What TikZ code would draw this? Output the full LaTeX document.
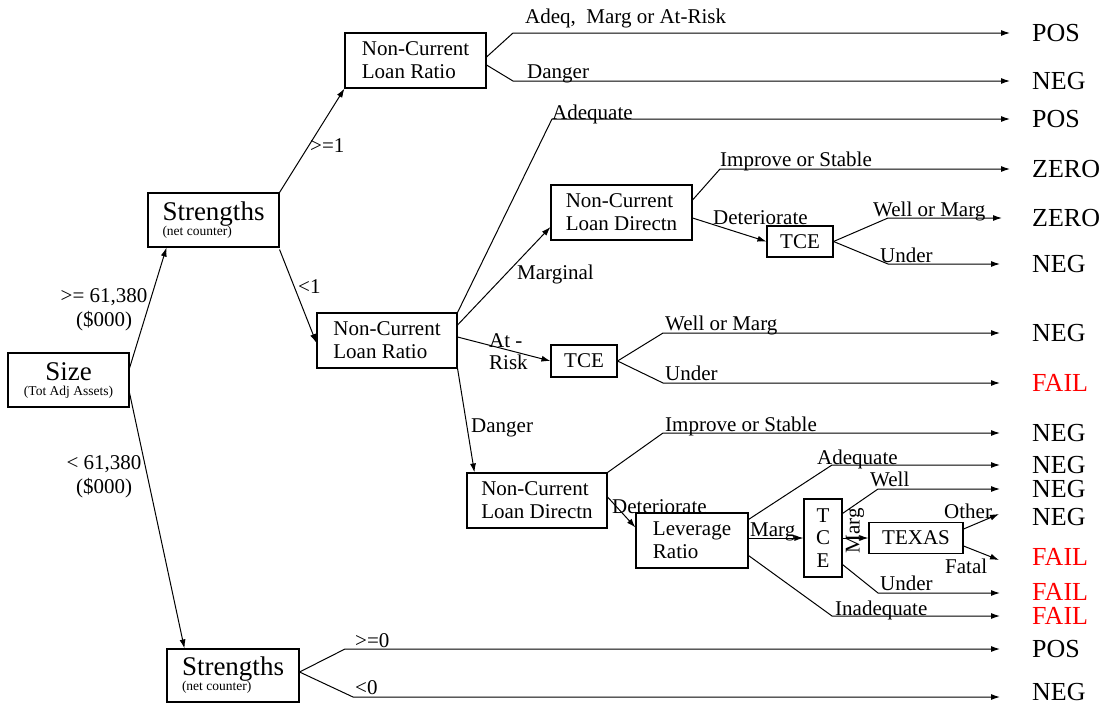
\documentclass[tikz,border=0pt]{standalone}
\usepackage{fontspec}
\setmainfont{Liberation Serif}
\usetikzlibrary{arrows.meta}
\definecolor{failred}{RGB}{255,0,0}
\begin{document}
\begin{tikzpicture}[x=1pt,y=-1pt,
  box/.style={draw, line width=1.1pt, inner sep=0pt, font=\fontsize{21}{23}\selectfont, align=left},
  bigbox/.style={draw, line width=1.1pt, inner sep=0pt, font=\fontsize{27}{27}\selectfont},
  lab/.style={font=\fontsize{21}{23}\selectfont, inner sep=0pt, anchor=base west},
  res/.style={font=\fontsize{26}{26}\selectfont, inner sep=0pt, anchor=west, text height=17pt, text depth=0pt},
  fail/.style={res, text=failred},
  arr/.style={-{Latex[length=9pt,width=6pt]}, line width=1pt}]
\useasboundingbox[fill=white] (0,0) rectangle (1107,704);

% boxes
\node[bigbox, align=center, minimum width=121pt, minimum height=54pt] (size) at (68.5,380)
  {Size\\[-12pt]{\fontsize{13.5}{14}\selectfont (Tot Adj Assets)}};
\node[bigbox, align=left, minimum width=131pt, minimum height=54pt] (s1) at (213.5,220)
  {Strengths\\[-12pt]{\fontsize{13.5}{14}\selectfont (net counter)}};
\node[bigbox, align=left, minimum width=132pt, minimum height=53pt] (s2) at (233,675.5)
  {Strengths\\[-12pt]{\fontsize{13.5}{14}\selectfont (net counter)}};
\node[box, minimum width=141pt, minimum height=55pt] (n1) at (415.5,60.5) {Non-Current\\Loan Ratio};
\node[box, minimum width=140pt, minimum height=55pt] (n2) at (387,340.5) {Non-Current\\Loan Ratio};
\node[box, minimum width=141pt, minimum height=55pt] (d1) at (621.5,212.5) {Non-Current\\Loan Directn};
\node[box, minimum width=140pt, minimum height=55pt] (d2) at (537,500.5) {Non-Current\\Loan Directn};
\node[box, minimum width=66pt, minimum height=32pt] (t1) at (584,361) {TCE};
\node[box, minimum width=66pt, minimum height=31pt] (t2) at (800,241.5) {TCE};
\node[box, minimum width=112pt, minimum height=55pt] (lev) at (692,540.5) {Leverage\\Ratio};
\node[box, align=center, font=\fontsize{21}{22.5}\selectfont, minimum width=38pt, minimum height=78pt] (t3) at (823,538) {T\\C\\E};
\node[box, minimum width=94pt, minimum height=31pt] (tx) at (916,538) {TEXAS};

% results
\node[res]  (r1)  at (1032,33)  {POS};
\node[res]  (r2)  at (1032,81)  {NEG};
\node[res]  (r3)  at (1032,119) {POS};
\node[res]  (r4)  at (1032,169) {ZERO};
\node[res]  (r5)  at (1032,218) {ZERO};
\node[res]  (r6)  at (1032,264) {NEG};
\node[res]  (r7)  at (1032,333) {NEG};
\node[fail] (r8)  at (1032,383) {FAIL};
\node[res]  (r9)  at (1032,433) {NEG};
\node[res]  (r10) at (1032,465) {NEG};
\node[res]  (r11) at (1032,489) {NEG};
\node[res]  (r12) at (1032,517) {NEG};
\node[fail] (r13) at (1032,557) {FAIL};
\node[fail] (r14) at (1032,592) {FAIL};
\node[fail] (r15) at (1032,616) {FAIL};
\node[res]  (r16) at (1032,649) {POS};
\node[res]  (r17) at (1032,692) {NEG};

% connectors
\draw[arr] ([yshift=12pt]size.east) -- ([xshift=19pt]s1.south west);
\draw[arr] ([yshift=-13pt]size.east) -- ([xshift=18pt]s2.north west);
\draw[arr] (s1.north east) -- (n1.south west);
\draw[arr] ([yshift=-2pt]s1.south east) -- ([yshift=-2.5pt]n2.west);
\draw[arr] ([yshift=3.5pt]n1.east) -- ([xshift=-519pt]r1.west) -- ([xshift=-22pt]r1.west);
\draw[arr] ([yshift=-4.5pt]n1.east) -- ([xshift=-519pt]r2.west) -- ([xshift=-22pt]r2.west);
\draw[arr] (n2.north east) -- ([xshift=-480pt]r3.west) -- ([xshift=-22pt]r3.west);
\draw[arr] ([yshift=15.5pt]n2.east) -- ([yshift=-14.5pt]d1.west);
\draw[arr] ([yshift=3.5pt]n2.east) -- (t1.west);
\draw[arr] (n2.south east) -- ([xshift=8pt]d2.north west);
\draw[arr] ([yshift=12.5pt]d1.east) -- ([xshift=-312pt]r4.west) -- ([xshift=-22pt]r4.west);
\draw[arr] ([yshift=-5.5pt]d1.east) -- (t2.west);
\draw[arr] (t2.east) -- ([xshift=-144pt]r5.west) -- ([xshift=-30pt]r5.west);
\draw[arr] (t2.east) -- ([xshift=-144pt]r6.west) -- ([xshift=-32pt]r6.west);
\draw[arr] (t1.east) -- ([xshift=-369pt]r7.west) -- ([xshift=-32pt]r7.west);
\draw[arr] (t1.east) -- ([xshift=-369pt]r8.west) -- ([xshift=-32pt]r8.west);
\draw[arr] (d2.north east) -- ([xshift=-369pt]r9.west) -- ([xshift=-32pt]r9.west);
\draw[arr] ([yshift=3.5pt]d2.east) -- ([yshift=-15pt]lev.north west);
\draw[arr] ([yshift=-7pt]lev.north east) -- ([xshift=-200pt]r10.west) -- ([xshift=-32pt]r10.west);
\draw[arr] ([yshift=2.5pt]lev.east) -- (t3.west);
\draw[arr] ([yshift=13pt]lev.south east) -- ([xshift=-200pt]r15.west) -- ([xshift=-32pt]r15.west);
\draw[arr] ([yshift=-15pt]t3.north east) -- ([xshift=-154pt]r11.west) -- ([xshift=-32pt]r11.west);
\draw[arr] (t3.east) -- (tx.west);
\draw[arr] ([yshift=13pt]t3.south east) -- ([xshift=-154pt,yshift=-1pt]r14.west) -- ([xshift=-32pt,yshift=-1pt]r14.west);
\draw[arr] ([yshift=9pt]tx.east) -- ([xshift=-33pt,yshift=3pt]r12.west);
\draw[arr] ([yshift=-8pt]tx.east) -- ([xshift=-33pt,yshift=-3pt]r13.west);
\draw[arr] ([yshift=3.5pt]s2.east) -- ([xshift=-687pt]r16.west) -- ([xshift=-32pt]r16.west);
\draw[arr] ([yshift=3.5pt]s2.east) -- ([xshift=-679pt,yshift=-5pt]r17.west) -- ([xshift=-32pt,yshift=-5pt]r17.west);

% labels
\node[lab, anchor=center, align=center, font=\fontsize{21}{24}\selectfont] (lhi) at (104,310) {>= 61,380\\(\$000)};
\node[lab, anchor=center, align=center, font=\fontsize{21}{24}\selectfont] (llo) at (104,477) {< 61,380\\(\$000)};
\node[lab] (l1) at (310,152) {>=1};
\node[lab] (l2) at (298,293) {<1};
\node[lab] (l3) at (525,23) {Adeq,~ Marg or At-Risk};
\node[lab] (l4) at (527,78) {Danger};
\node[lab] (l5) at (552,119) {Adequate};
\node[lab] (l6) at (517,279) {Marginal};
\node[lab, align=left, font=\fontsize{21}{22}\selectfont] (l7) at (489,369) {At -\\Risk};
\node[lab] (l8) at (471,432) {Danger};
\node[lab] (l9) at (720,166) {Improve or Stable};
\node[lab] (l10) at (713,224) {Deteriorate};
\node[lab] (l11) at (873,216) {Well or Marg};
\node[lab] (l12) at (880,262) {Under};
\node[lab] (l13) at (665,330) {Well or Marg};
\node[lab] (l14) at (665,380) {Under};
\node[lab] (l15) at (665,431) {Improve or Stable};
\node[lab] (l16) at (612,513) {Deteriorate};
\node[lab] (l17) at (817,464) {Adequate};
\node[lab] (l18) at (750,536) {Marg};
\node[lab] (l19) at (870,486) {Well};
\node[lab, anchor=center, rotate=90] (l20) at (855,531) {Marg};
\node[lab] (l21) at (880,590) {Under};
\node[lab] (l22) at (835,615) {Inadequate};
\node[lab] (l23) at (944,518) {Other};
\node[lab] (l24) at (945,573) {Fatal};
\node[lab] (l25) at (355,647) {>=0};
\node[lab] (l26) at (355,694) {<0};
\end{tikzpicture}
\end{document}
